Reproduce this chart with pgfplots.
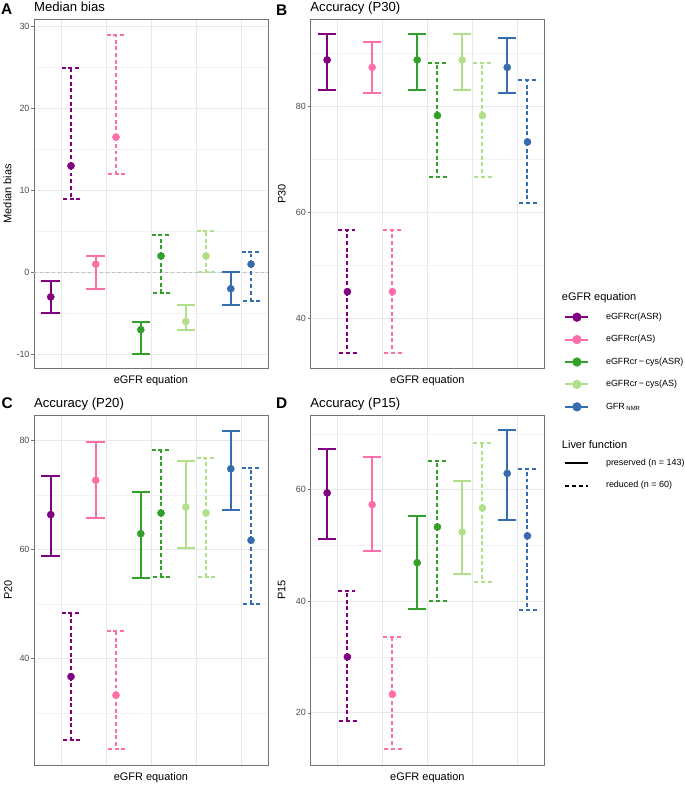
\documentclass[border=0pt]{standalone}
\usepackage{pgfplots}
\usepackage{pgfplotstable}
\usepackage{fontspec}
\setmainfont{Liberation Sans}
\pgfplotsset{compat=1.18}

\definecolor{cpur}{HTML}{800080}
\definecolor{cpink}{HTML}{FF6EA8}
\definecolor{cgrn}{HTML}{33A02C}
\definecolor{clgrn}{HTML}{B2DF8A}
\definecolor{cblue}{HTML}{386CB0}
\tikzset{dsh/.style={dash pattern=on 4pt off 2.7pt}, sld/.style={solid}}

% x y lo hi ; rows: preserved/reduced for each equation
\pgfplotstableread{
x y lo hi
0.775 -3 -5 -1
1.225 13 9 25
1.775 1 -2 2
2.225 16.5 12 29
2.775 -7 -10 -6
3.225 2 -2.5 4.5
3.775 -6 -7 -4
4.225 2 0 5
4.775 -2 -4 0
5.225 1 -3.5 2.5
}\tabA
\pgfplotstableread{
x y lo hi
0.775 88.8 83.2 93.7
1.225 45.0 33.4 56.7
1.775 87.4 82.5 92.2
2.225 45.0 33.4 56.7
2.775 88.8 83.2 93.7
3.225 78.3 66.6 88.3
3.775 88.8 83.2 93.7
4.225 78.3 66.6 88.3
4.775 87.4 82.5 92.9
5.225 73.3 61.7 85.0
}\tabB
\pgfplotstableread{
x y lo hi
0.775 66.4 58.8 73.4
1.225 36.7 25.1 48.3
1.775 72.7 65.8 79.7
2.225 33.3 23.4 45.0
2.775 62.9 54.7 70.6
3.225 66.7 55.0 78.3
3.775 67.8 60.2 76.2
4.225 66.7 55.0 76.7
4.775 74.8 67.2 81.8
5.225 61.7 50.0 75.0
}\tabC
\pgfplotstableread{
x y lo hi
0.775 59.4 51.1 67.2
1.225 30.0 18.5 41.8
1.775 57.3 49.0 65.8
2.225 23.3 13.5 33.5
2.775 46.9 38.6 55.3
3.225 53.3 40.1 65.1
3.775 52.4 44.8 61.6
4.225 56.7 43.4 68.3
4.775 62.9 54.6 70.6
5.225 51.7 38.4 63.6
}\tabD

% #1 table, #2 row, #3 row+1, #4 colour, #5 line style
\newcommand{\eb}[5]{%
  \addplot[only marks, mark=*, mark size=3.6pt, color=#4, mark options={solid},
    skip coords between index={0}{#2},
    skip coords between index={#3}{20},
    error bars/.cd, y dir=both, y explicit,
    error bar style={line width=2pt, #5},
    error mark options={rotate=90, mark size=9.3pt, line width=2pt, #5}]
  table[x=x, y=y, y error plus expr=\thisrow{hi}-\thisrow{y},
        y error minus expr=\thisrow{y}-\thisrow{lo}] {#1};}
\newcommand{\allbars}[1]{%
  \eb{#1}{0}{1}{cpur}{sld}\eb{#1}{1}{2}{cpur}{dsh}%
  \eb{#1}{2}{3}{cpink}{sld}\eb{#1}{3}{4}{cpink}{dsh}%
  \eb{#1}{4}{5}{cgrn}{sld}\eb{#1}{5}{6}{cgrn}{dsh}%
  \eb{#1}{6}{7}{clgrn}{sld}\eb{#1}{7}{8}{clgrn}{dsh}%
  \eb{#1}{8}{9}{cblue}{sld}\eb{#1}{9}{10}{cblue}{dsh}}

\pgfplotsset{panel/.style={
  scale only axis, width=235pt, height=351pt,
  xmin=0.4, xmax=5.6, xtick={1,...,5}, xticklabels={},
  xmajorgrids, ymajorgrids, yminorgrids,
  major grid style={color=black!9, line width=0.6pt},
  minor grid style={color=black!5, line width=0.4pt},
  axis line style={color=black!55, line width=0.7pt},
  tick pos=left,
  tick align=outside, major tick length=2.7pt, minor tick length=0pt,
  xtick style={draw=none},
  ytick style={color=black!55, line width=0.5pt},
  yticklabel style={font=\fontsize{9}{9}\selectfont, color=black!70, inner sep=1.5pt},
  /pgf/number format/assume math mode=true,
  xlabel={eGFR equation},
  label style={font=\fontsize{11}{11}\selectfont},
  xlabel style={at={(axis description cs:0.5,-0.036)}, anchor=center},
  ylabel style={anchor=center},
}}

\begin{document}
\begin{tikzpicture}
\path (0pt,0pt) rectangle (685pt,786pt);

% A
\begin{axis}[panel, at={(34pt,416pt)}, anchor=south west,
  ymin=-11.74, ymax=30.93, ytick={-10,0,10,20,30}, minor ytick={-5,5,15,25},
  ylabel={Median bias}, ylabel style={at={(axis description cs:-0.113,0.5)}}]
\addplot[black!25, dashed, line width=0.8pt] coordinates {(0.4,0) (5.6,0)};
\allbars{\tabA}
\end{axis}

% B
\begin{axis}[panel, at={(311.5pt,416pt)}, anchor=south west,
  ymin=30.47, ymax=96.55, ytick={40,60,80}, minor ytick={50,70,90},
  ylabel={P30}, ylabel style={at={(axis description cs:-0.121,0.5)}},
  legend style={at={(1.086,0.159)}, anchor=north west, draw=none, fill=none,
    inner sep=0pt, outer sep=0pt, font=\fontsize{9}{9}\selectfont, row sep=14pt,
    nodes={inner sep=0pt, text height=6.5pt, text depth=2pt},
    /tikz/every odd column/.append style={column sep=16.7pt}},
  legend cell align=left,
  legend image code/.code={\draw[mark repeat=2,mark phase=2,#1] plot coordinates {(0pt,0pt) (11.5pt,0pt) (23pt,0pt)};}]
\addlegendimage{cpur, line width=2pt, mark=*, mark size=3.6pt}
\addlegendentry{eGFRcr(ASR)}
\addlegendimage{cpink, line width=2pt, mark=*, mark size=3.6pt}
\addlegendentry{eGFRcr(AS)}
\addlegendimage{cgrn, line width=2pt, mark=*, mark size=3.6pt}
\addlegendentry{eGFRcr\,−\,cys(ASR)}
\addlegendimage{clgrn, line width=2pt, mark=*, mark size=3.6pt}
\addlegendentry{eGFRcr\,−\,cys(AS)}
\addlegendimage{cblue, line width=2pt, mark=*, mark size=3.6pt}
\addlegendentry{GFR\,\textsubscript{NMR}}
\allbars{\tabB}
\end{axis}

% C
\begin{axis}[panel, at={(34pt,18pt)}, anchor=south west,
  ymin=20.5, ymax=84.6, ytick={40,60,80}, minor ytick={30,50,70},
  ylabel={P20}, ylabel style={at={(axis description cs:-0.11,0.5)}}]
\allbars{\tabC}
\end{axis}

% D
\begin{axis}[panel, at={(311.5pt,18pt)}, anchor=south west,
  ymin=10.64, ymax=73.3, ytick={20,40,60}, minor ytick={30,50,70},
  ylabel={P15}, ylabel style={at={(axis description cs:-0.122,0.5)}},
  legend style={at={(1.086,0.875)}, anchor=north west, draw=none, fill=none,
    inner sep=0pt, outer sep=0pt, font=\fontsize{9}{9}\selectfont, row sep=14pt,
    nodes={inner sep=0pt, text height=6.5pt, text depth=2pt},
    /tikz/every odd column/.append style={column sep=16.7pt}},
  legend cell align=left,
  legend image code/.code={\draw[#1] (0pt,0pt) -- (23pt,0pt);}]
\addlegendimage{black, line width=2pt}
\addlegendentry{preserved (n = 143)}
\addlegendimage{black, line width=2pt, dash pattern=on 4pt off 3pt}
\addlegendentry{reduced (n = 60)}
\allbars{\tabD}
\end{axis}

% titles
\node[anchor=base west, inner sep=0pt, font=\fontsize{15.5}{15.5}\selectfont\bfseries] at (1pt,771pt) {A};
\node[anchor=base west, inner sep=0pt, font=\fontsize{13.2}{13.2}\selectfont] at (34pt,774pt) {Median bias};
\node[anchor=base west, inner sep=0pt, font=\fontsize{15.5}{15.5}\selectfont\bfseries] at (277pt,770.5pt) {B};
\node[anchor=base west, inner sep=0pt, font=\fontsize{13.2}{13.2}\selectfont] at (311.5pt,774pt) {Accuracy (P30)};
\node[anchor=base west, inner sep=0pt, font=\fontsize{15.5}{15.5}\selectfont\bfseries] at (1.5pt,375.5pt) {C};
\node[anchor=base west, inner sep=0pt, font=\fontsize{13.2}{13.2}\selectfont] at (34pt,377pt) {Accuracy (P20)};
\node[anchor=base west, inner sep=0pt, font=\fontsize{15.5}{15.5}\selectfont\bfseries] at (277pt,375.5pt) {D};
\node[anchor=base west, inner sep=0pt, font=\fontsize{13.2}{13.2}\selectfont] at (311.5pt,377pt) {Accuracy (P15)};

% legend titles
\node[anchor=west, inner sep=0pt, font=\fontsize{11}{11}\selectfont] at (564pt,487pt) {eGFR equation};
\node[anchor=west, inner sep=0pt, font=\fontsize{11}{11}\selectfont] at (564pt,340pt) {Liver function};
\end{tikzpicture}
\end{document}
